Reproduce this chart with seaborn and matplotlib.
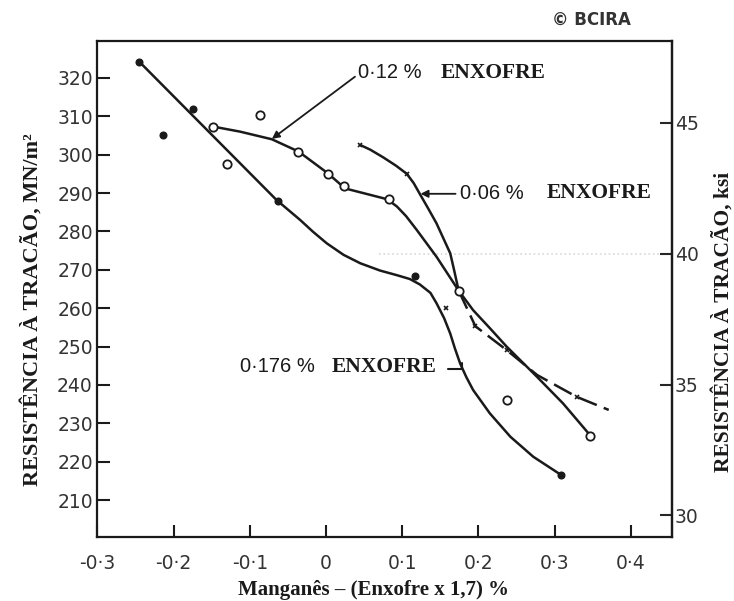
import matplotlib
matplotlib.use("Agg")
import matplotlib.pyplot as plt
import seaborn as sns

# ---------------- data ----------------
# 0.176 % sulphur: fitted curve and filled-dot measurements
c176_x = [-0.245, -0.065, -0.034, -0.017, 0.001, 0.023, 0.045, 0.071, 0.093, 0.110, 0.123, 0.137,
          0.145, 0.155, 0.163, 0.169, 0.176, 0.184, 0.193, 0.215, 0.242, 0.272, 0.309]
c176_y = [324.2, 288.2, 283.0, 279.9, 276.9, 273.9, 271.7, 269.8, 268.6, 267.6, 266.2, 264.0,
          261.3, 257.4, 253.4, 249.6, 245.6, 242.1, 238.7, 232.6, 226.5, 221.3, 216.5]
p176_x = [-0.245, -0.214, -0.175, -0.063, 0.117, 0.309]
p176_y = [324.2, 305.0, 311.9, 288.0, 268.4, 216.5]

# 0.12 % sulphur: fitted curve and open-circle measurements
c12_x = [-0.148, -0.113, -0.071, -0.036, 0.002, 0.025, 0.080, 0.093, 0.105, 0.119, 0.145, 0.174,
         0.193, 0.215, 0.237, 0.277, 0.311, 0.347]
c12_y = [307.3, 306.0, 304.0, 300.8, 295.2, 291.2, 288.4, 286.5, 284.0, 280.4, 273.4, 264.6,
         259.5, 254.8, 250.0, 242.1, 235.2, 226.8]
p12_x = [-0.148, -0.130, -0.087, -0.037, 0.002, 0.024, 0.082, 0.174, 0.238, 0.347]
p12_y = [307.3, 297.6, 310.4, 300.8, 295.0, 291.7, 288.4, 264.6, 236.2, 226.8]

# 0.06 % sulphur: solid part, dashed part, and x-mark measurements
c06_x = [0.045, 0.058, 0.075, 0.092, 0.106, 0.115, 0.123, 0.134, 0.145, 0.154, 0.163, 0.168, 0.174]
c06_y = [302.5, 301.3, 299.3, 297.1, 295.0, 292.6, 289.8, 286.0, 282.1, 278.2, 274.3, 270.0, 264.6]
c06d_x = [0.174, 0.196, 0.237, 0.277, 0.329, 0.371]
c06d_y = [264.6, 255.3, 249.1, 242.6, 236.9, 233.5]
p06_x = [0.045, 0.106, 0.158, 0.196, 0.237, 0.329]
p06_y = [302.5, 295.0, 260.0, 255.3, 249.1, 236.8]

x_ticks = [-0.3, -0.2, -0.1, 0.0, 0.1, 0.2, 0.3, 0.4]
x_labels = ["-0·3", "-0·2", "-0·1", "0", "0·1", "0·2", "0·3", "0·4"]
y_ticks = [210, 220, 230, 240, 250, 260, 270, 280, 290, 300, 310, 320]
ksi_ticks = [30, 35, 40, 45]

# ---------------- figure ----------------
sns.set_style("ticks")
plt.rcParams["font.family"] = ["DejaVu Sans"]
INK = "#1a1a1a"

fig = plt.figure(figsize=(7.34, 6.01), dpi=100)
ax = fig.add_axes([97 / 734, 1 - 537 / 601, 575 / 734, 496 / 601])

line_kw = dict(color=INK, linewidth=1.8, sort=False, estimator=None, ax=ax, legend=False)
sns.lineplot(x=c176_x, y=c176_y, **line_kw)
sns.lineplot(x=c12_x, y=c12_y, **line_kw)
sns.lineplot(x=c06_x, y=c06_y, **line_kw)
sns.lineplot(x=c06d_x, y=c06d_y, linestyle=(0, (8, 3)), **line_kw)

ax.plot(p176_x, p176_y, "o", ms=4.8, color=INK, zorder=5)
ax.plot(p12_x, p12_y, "o", ms=6, mfc="white", mec=INK, mew=1.3, zorder=5)
ax.plot(p06_x, p06_y, "x", ms=3.5, color=INK, mew=1.2, zorder=5)

ax.set_xlim(-0.3005, 0.454)
ax.set_ylim(200.4, 329.6)

# secondary (ksi) axis, calibrated from the drawn scale
def mpa_to_ksi(m):
    return 0.1468 * m - 0.25

def ksi_to_mpa(k):
    return (k + 0.25) / 0.1468

# faint dotted guide near 40 ksi
ax.plot([0.07, 0.44], [ksi_to_mpa(40)] * 2, color="#d8d8d8", linestyle=":", linewidth=1.2, zorder=1)

sec = ax.secondary_yaxis("right", functions=(mpa_to_ksi, ksi_to_mpa))
sec.set_yticks(ksi_ticks)
sec.tick_params(direction="in", length=9, width=1.5, labelsize=13.5, labelcolor="#333333", pad=2)
sec.spines["right"].set_linewidth(1.6)
sec.spines["right"].set_color(INK)

ax.set_xticks(x_ticks)
ax.set_xticklabels(x_labels)
ax.set_yticks(y_ticks)
ax.tick_params(axis="both", direction="in", length=9, width=1.5, labelsize=13.5,
               labelcolor="#333333", color=INK)
ax.tick_params(axis="x", pad=12)
ax.tick_params(axis="y", pad=3)
for s in ax.spines.values():
    s.set_visible(True)
    s.set_linewidth(1.6)
    s.set_color(INK)
ax.set_xlabel("")
ax.set_ylabel("")

serif = ["Liberation Serif", "DejaVu Serif"]
fig.text(374 / 734, 1 - 590 / 601, "Manganês – (Enxofre x 1,7) %", family=serif,
         fontweight="bold", fontsize=15, color=INK, ha="center", va="center")
fig.text(32 / 734, 1 - 310 / 601, "RESISTÊNCIA À TRACÃO, MN/m²", family=serif,
         fontweight="bold", fontsize=16, color=INK, ha="center", va="center", rotation=90)
fig.text(723 / 734, 1 - 322 / 601, "RESISTÊNCIA À TRACÃO, ksi", family=serif,
         fontweight="bold", fontsize=15.5, color=INK, ha="center", va="center", rotation=90)

# curve labels
num_kw = dict(family=["Liberation Sans", "DejaVu Sans"], fontsize=14.5, color=INK, va="center", ha="left")
word_kw = dict(family=serif, fontweight="bold", fontsize=15.5, color=INK, va="center", ha="left")
ax.text(0.042, 321.3, "0·12 %", **num_kw)
ax.text(0.150, 321.3, "ENXOFRE", **word_kw)
ax.text(0.176, 290.0, "0·06 %", **num_kw)
ax.text(0.290, 290.0, "ENXOFRE", **word_kw)
ax.text(-0.113, 244.8, "0·176 %", **num_kw)
ax.text(0.008, 244.8, "ENXOFRE", **word_kw)

arrow = dict(arrowstyle="-|>", color=INK, lw=1.3, mutation_scale=11, shrinkA=0, shrinkB=0)
ax.annotate("", xy=(-0.071, 304.1), xytext=(0.038, 320.3), arrowprops=arrow)
ax.annotate("", xy=(0.124, 289.8), xytext=(0.170, 289.8), arrowprops=arrow)
ax.plot([0.160, 0.178, 0.178], [244.2, 244.2, 245.6], color=INK, lw=1.5)

fig.text(552 / 734, 1 - 20 / 601, "© BCIRA", fontsize=12, fontweight="bold", color="#333333",
         ha="left", va="center")

fig.savefig("out.png", dpi=100)
